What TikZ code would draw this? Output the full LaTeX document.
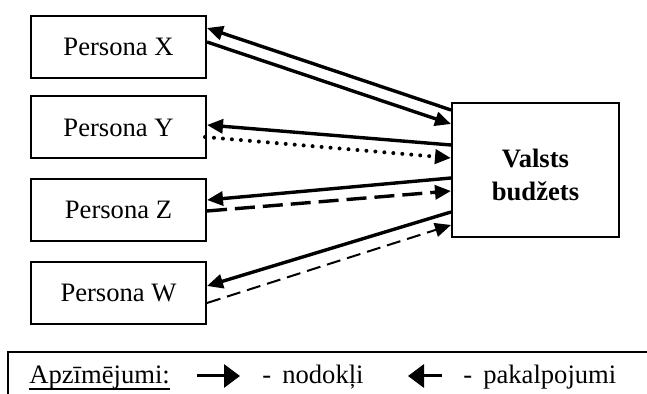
\documentclass[tikz,border=0pt]{standalone}
\usepackage{fontspec}
\setmainfont{Liberation Serif}
\usetikzlibrary{arrows.meta,calc}
\begin{document}
\begin{tikzpicture}[x=0.5pt,y=-0.5pt,>={Triangle[length=8pt,width=7pt]},
	font=\fontsize{13.3}{16.5}\selectfont,
	box/.style={draw,line width=1pt,inner sep=0pt},
	person/.style={box,minimum width=87.5pt,minimum height=31pt},
	flow/.style={->,line width=1.7pt},
	keyarrow/.style={line width=1.5pt,-{Triangle[length=8pt,width=11.5pt]}},
	keytext/.style={anchor=base west,inner sep=0pt}]
	\useasboundingbox(0,0)rectangle(647,394);
	% personas and budget
	\node[person](X)at(118.5,47){Persona X};
	\node[person](Y)at(118.5,127.5){Persona Y};
	\node[person](Z)at(118.5,210){Persona Z};
	\node[person](W)at(118.5,293){Persona W};
	\node[box,minimum width=83.5pt,minimum height=67pt](B)at(535.5,170){};
	\node[align=center,font=\fontsize{13.3}{16.5}\selectfont\bfseries](Btext)at($(B.center)+(0,4.5)$){Valsts\\budžets};
	% flows
	\draw[flow]($(B.west)+(0,-60)$)--($(X.east)+(0,-19)$);
	\draw[flow]($(X.east)+(0,-5)$)--($(B.west)+(0,-46)$);
	\draw[flow]($(B.west)+(0,-25)$)--($(Y.east)+(0,-2.5)$);
	\draw[flow,line width=2pt,dash pattern=on 0pt off 4.5pt,line cap=round]($(Y.east)+(-2,9.5)$)--($(B.west)+(0,-12)$);
	\draw[flow]($(B.west)+(0,8)$)--($(Z.east)+(0,-10)$);
	\draw[flow,dash pattern=on 10pt off 4pt]($(Z.east)+(0,1)$)--($(B.west)+(0,21)$);
	\draw[flow]($(B.west)+(0,42)$)--($(W.east)+(0,-7)$);
	\draw[flow,line width=1pt,dash pattern=on 7pt off 3.5pt]($(W.east)+(0,10)$)--($(B.west)+(0,55)$);
	% legend
	\draw[line width=1pt](8,400)--(8,352)--(650,352);
	\node[keytext](key)at(29,384){Apzīmējumi:};
	\draw[line width=0.7pt]($(key.base west)+(0,5)$)--($(key.base east)+(0,5)$);
	\draw[keyarrow](197,376)--(240,376);
	\node[keytext](tax)at(262,384){-\, nodokļi};
	\draw[keyarrow](442,376)--(408,376);
	\node[keytext](serv)at(463,384){-\, pakalpojumi};
\end{tikzpicture}
\end{document}
